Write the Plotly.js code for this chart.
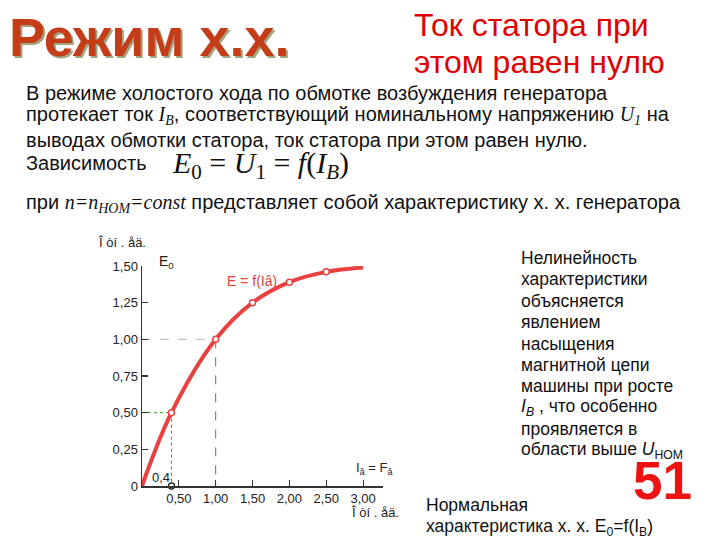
<!DOCTYPE html>
<html><head><meta charset="utf-8">
<script src="https://cdn.plot.ly/plotly-3.0.1.min.js"></script>
<style>html,body{margin:0;padding:0;background:#fff}</style>
</head><body>
<div id="chart" style="width:720px;height:540px"></div>
<script>
// ---- data ----
const currentIB = [0, 0.4, 1.0, 1.5, 2.0, 2.5, 3.0];        // I_B, о.е.
const emfE0     = [0, 0.5, 1.0, 1.25, 1.39, 1.46, 1.49];    // E0, о.е.
const markedIdx = [1, 2, 3, 4, 5];                           // points shown with circles
const xTickVals = [0.5, 1.0, 1.5, 2.0, 2.5, 3.0];
const xTickText = ["0,50", "1,00", "1,50", "2,00", "2,50", "3,00"];
const yTickVals = [0, 0.25, 0.5, 0.75, 1.0, 1.25, 1.5];
const yTickText = ["0", "0,25", "0,50", "0,75", "1,00", "1,25", "1,50"];
const nominalIdx = 2;  // I_B = 1,00 -> E0 = 1,00
const kneeIdx = 1;     // I_B = 0,4 -> E0 = 0,5

const sideLines = ["Нелинейность", "характеристики", "объясняется", "явлением", "насыщения",
  "магнитной цепи", "машины при росте", "<i>I<sub>B</sub></i> , что особенно", "проявляется в",
  "области выше <i>U</i><sub>НОМ</sub>"];

const px = v => v / 720, py = v => 1 - v / 540;
const SANS = "Liberation Sans, Arial, sans-serif";
const NARROW = "Liberation Sans Narrow, Arial Narrow, Liberation Sans, sans-serif";
const SERIF = "Liberation Serif, Times New Roman, serif";
const red = "#e8413f";

const mx = markedIdx.map(i => currentIB[i]);
const my = markedIdx.map(i => emfE0[i]);
const xn = currentIB[nominalIdx], yn = emfE0[nominalIdx];
const xk = currentIB[kneeIdx], yk = emfE0[kneeIdx];

const traces = [
  {x: [0, xn], y: [yn, yn], mode: "lines", line: {color: "#b8b8b8", width: 1, dash: "dash"}, hoverinfo: "skip"},
  {x: [xn, xn], y: [yn, 0], mode: "lines", line: {color: "#2f9a2f", width: 1, dash: "dash"}, hoverinfo: "skip"},
  {x: [0, xk], y: [yk, yk], mode: "lines", line: {color: "#2f9a2f", width: 1, dash: "dot"}, hoverinfo: "skip"},
  {x: [xk, xk], y: [yk, 0], mode: "lines", line: {color: "#2f9a2f", width: 1, dash: "dot"}, hoverinfo: "skip"},
  {x: currentIB, y: emfE0, mode: "lines", line: {color: red, width: 4, shape: "spline", smoothing: 1}, hoverinfo: "skip"},
  {x: mx, y: my, mode: "markers", marker: {size: 6, color: "#fff", line: {color: red, width: 1.5}}, hoverinfo: "skip"},
  {x: [xk], y: [0], mode: "markers", marker: {size: 6, color: "#fff", line: {color: "#222", width: 1.3}}, hoverinfo: "skip", cliponaxis: false}
];

function ann(text, x, y, opts) {
  return Object.assign({text: text, x: px(x), y: py(y), xref: "paper", yref: "paper",
    xanchor: "left", yanchor: "middle", showarrow: false, align: "left",
    font: {family: SANS, size: 20, color: "#111"}}, opts || {});
}
const it = s => '<span style="font-family:Liberation Serif, Times New Roman, serif"><i>' + s + '</i></span>';
const sideFont = {family: SANS, size: 17.5, color: "#111"};

const annotations = [
  ann("Режим х.х.", 7, 37, {font: {family: SANS, size: 54, color: "#c43c18", weight: "bold", shadow: "2px 2px 0px #a3a37d"}}),
  ann("Ток статора при", 412, 25, {font: {family: NARROW, size: 32, color: "#e00000"}}),
  ann("этом равен нулю", 412, 62, {font: {family: NARROW, size: 32, color: "#e00000"}}),
  ann("В режиме холостого хода по обмотке возбуждения генератора", 24, 93),
  ann("протекает ток " + it("I<sub>B</sub>") + ", соответствующий номинальному напряжению " + it("U<sub>1</sub>") + " на", 24, 116),
  ann("выводах обмотки статора, ток статора при этом равен нулю.", 24, 140),
  ann("Зависимость", 24, 163),
  ann("<i>E</i><sub>0</sub> = <i>U</i><sub>1</sub> = <i>f</i>(<i>I<sub>B</sub></i>)", 170, 165, {font: {family: SERIF, size: 30, color: "#111"}}),
  ann("при " + it("n=n<sub>НОМ</sub>=const") + " представляет собой характеристику х. х. генератора", 24, 203),
  ann("51", 631, 480, {font: {family: SANS, size: 53, color: "#ee1111", weight: "bold"}}),
  ann("Нормальная", 424, 505, {font: sideFont}),
  ann("характеристика х. х. E<sub>0</sub>=f(I<sub>B</sub>)", 424, 527, {font: sideFont}),
  // chart labels
  ann("Î òí . åä.", 96, 242, {font: {family: SANS, size: 13, color: "#222"}}),
  ann("E<sub>0</sub>", 157, 262, {font: {family: SANS, size: 14, color: "#222"}}),
  ann("E = f(Iâ)", 225, 281, {font: {family: SANS, size: 14, color: red}}),
  ann("0,4", 150, 477, {font: {family: SANS, size: 13, color: "#222"}}),
  ann("I<sub>â</sub> = F<sub>â</sub>", 354, 468, {font: {family: SANS, size: 13, color: "#222"}}),
  ann("Î òí . åä.", 349, 512, {font: {family: SANS, size: 13, color: "#222"}})
];
sideLines.forEach((t, i) => annotations.push(ann(t, 519, 258 + 21.4 * i, {font: sideFont})));

const axisCommon = {showgrid: false, zeroline: false, showline: true, linecolor: "#333", linewidth: 1.5,
  ticks: "inside", ticklen: 6, tickcolor: "#333", tickwidth: 1.2,
  tickfont: {family: SANS, size: 13, color: "#222"}, fixedrange: true};

const layout = {
  width: 720, height: 540, margin: {l: 0, r: 0, t: 0, b: 0},
  paper_bgcolor: "#fff", plot_bgcolor: "#fff", showlegend: false,
  separators: ", ",
  xaxis: Object.assign({}, axisCommon, {domain: [px(142), px(383)], range: [0, 3.27], tickvals: xTickVals, ticktext: xTickText}),
  yaxis: Object.assign({}, axisCommon, {domain: [py(486), py(266)], range: [0, 1.5], tickvals: yTickVals, ticktext: yTickText}),
  annotations: annotations
};

Plotly.newPlot("chart", traces, layout, {displayModeBar: false, staticPlot: true});
</script>
</body></html>
